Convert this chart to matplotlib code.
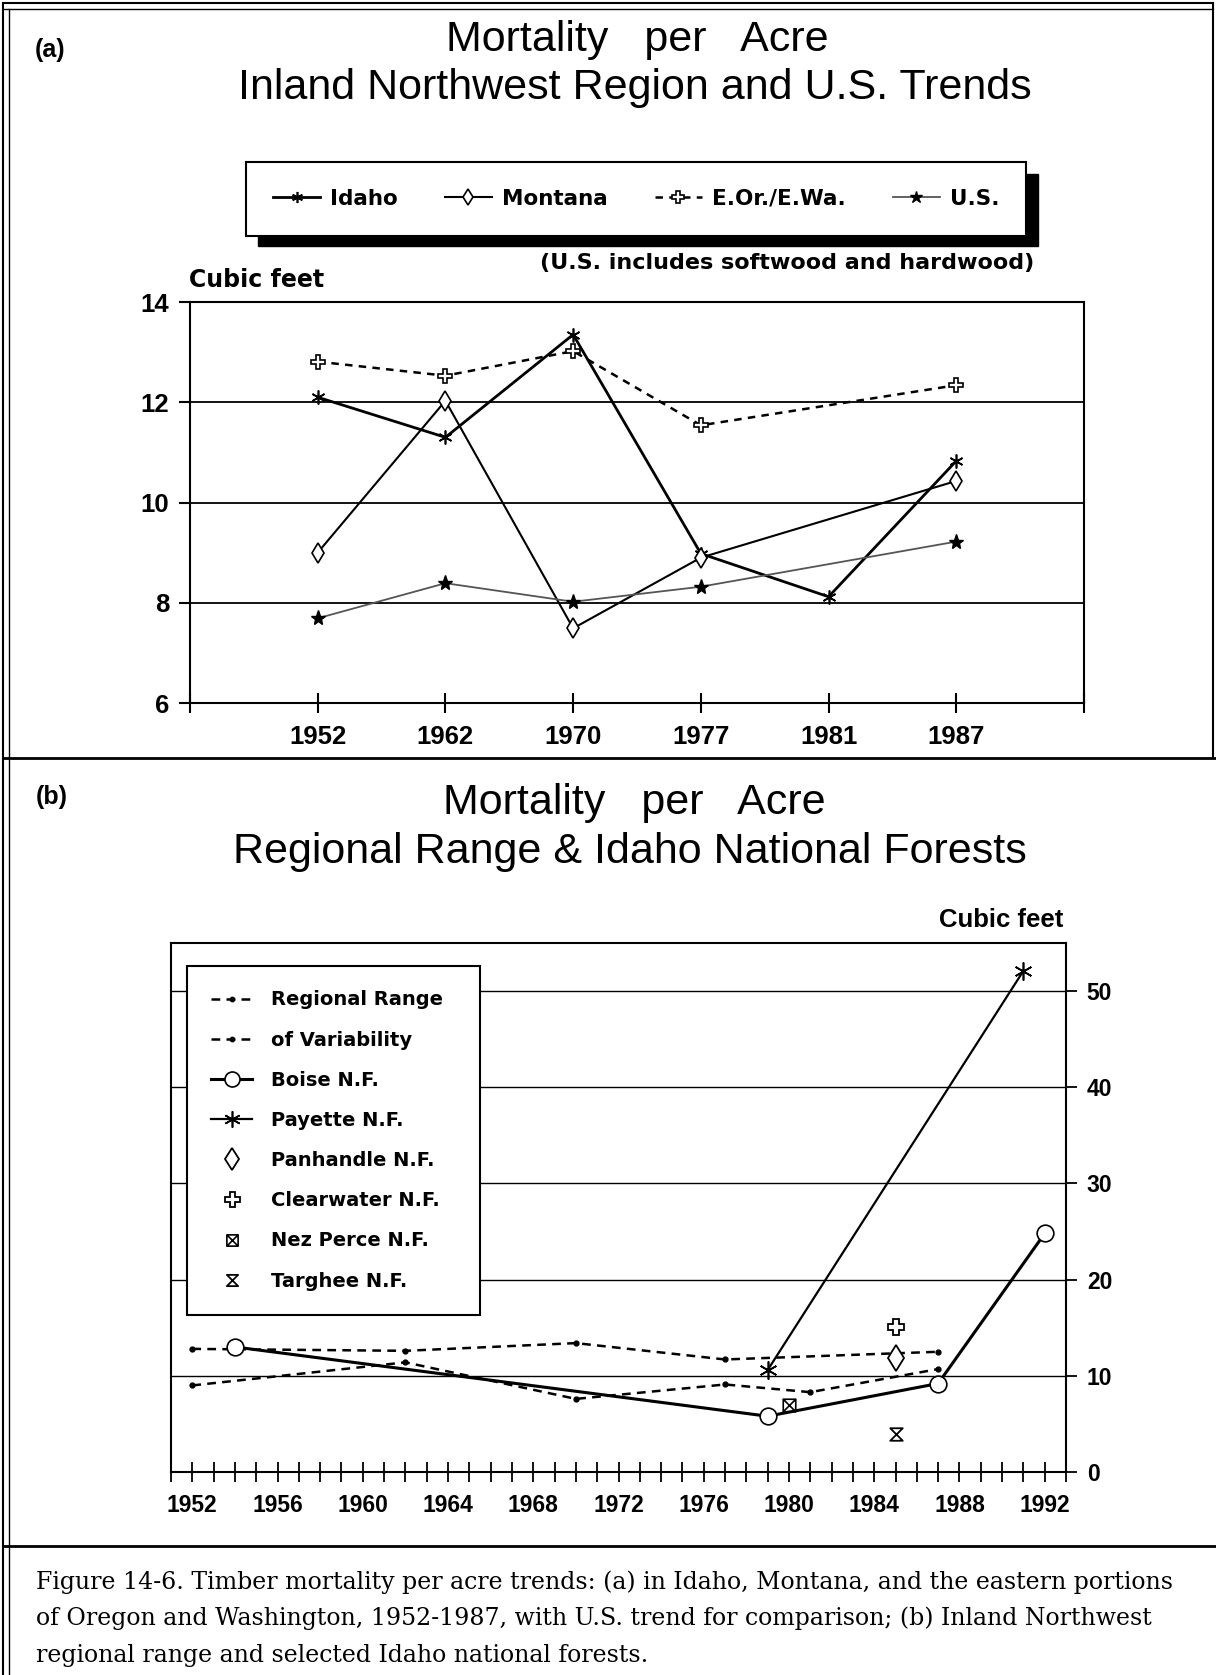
import numpy as np
import matplotlib
matplotlib.use("Agg")
import matplotlib.pyplot as plt
from matplotlib.lines import Line2D
from matplotlib.patches import Rectangle
from matplotlib.path import Path

# ---- data, panel (a) ----
years_a = ['1952', '1962', '1970', '1977', '1981', '1987']
idaho = [12.1, 11.3, 13.35, 8.98, 8.12, 10.83]
montana = [9.0, 12.03, 7.49, 8.9, None, 10.43]
eor_ewa = [12.81, 12.53, 13.02, 11.54, None, 12.34]
us_all = [7.69, 8.39, 8.02, 8.32, None, 9.22]

# ---- data, panel (b) ----
range_hi_years = [1952, 1962, 1970, 1977, 1987]
range_hi = [12.8, 12.6, 13.4, 11.7, 12.5]
range_lo_years = [1952, 1962, 1970, 1977, 1981, 1987]
range_lo = [9.0, 11.4, 7.6, 9.1, 8.3, 10.7]
boise_years = [1954, 1979, 1987, 1992]
boise = [13.0, 5.8, 9.2, 24.8]
payette_years = [1979, 1991]
payette = [10.6, 52.1]
panhandle_years, panhandle = [1985], [11.9]
clearwater_years, clearwater = [1985], [15.1]
nezperce_years, nezperce = [1980], [7.0]
targhee_years, targhee = [1985], [3.9]

W, H = 1216, 1675
fig = plt.figure(figsize=(W / 100, H / 100), dpi=100)


def fx(x):
    return x / W


def fy(y):
    return 1 - y / H


def fig_line(x0, y0, x1, y1, lw=1.5):
    fig.add_artist(Line2D([fx(x0), fx(x1)], [fy(y0), fy(y1)], color='black',
                          lw=lw, transform=fig.transFigure))


def present(vals):
    xs = [i for i, v in enumerate(vals) if v is not None]
    return xs, [vals[i] for i in xs]


# page frame
fig_line(3, 3, 1213, 3, 1.5)
fig_line(3, 9, 1213, 9, 1.0)
fig_line(3, 3, 3, 1675, 1.5)
fig_line(9, 9, 9, 1675, 1.0)
fig_line(1213, 3, 1213, 758, 1.5)
fig_line(3, 758, 1216, 758, 2.0)
fig_line(3, 1546, 1216, 1546, 2.0)

SANS = 'Liberation Sans'
WIDE = 'DejaVu Sans'
TITLE1 = 'Mortality   per   Acre'

# ================= panel (a) =================
fig.text(fx(50), fy(50), '(a)', family=SANS, weight='bold', fontsize=18,
         ha='center', va='center')
fig.text(fx(637), fy(40), TITLE1, family=SANS, fontsize=31,
         ha='center', va='center')
fig.text(fx(635), fy(88), 'Inland Northwest Region and U.S. Trends', family=SANS,
         fontsize=31, ha='center', va='center')

ax1 = fig.add_axes([fx(190), fy(703), (1084 - 190) / W, (703 - 302) / H])
ax1.set_xlim(-1, 6)
ax1.set_ylim(6, 14)

xs, ys = present(idaho)
ax1.plot(xs, ys, color='black', lw=2.0, marker=(6, 2, 0), ms=10, mew=1.2,
         label='Idaho')
xs, ys = present(montana)
ax1.plot(xs, ys, color='black', lw=1.5, marker='d', ms=10, mfc='white', mew=1.2,
         label='Montana')
xs, ys = present(eor_ewa)
ax1.plot(xs, ys, color='black', lw=1.8, ls=(0, (3, 2.5)), marker='P', ms=10,
         mfc='white', mew=1.2, label='E.Or./E.Wa.')
xs, ys = present(us_all)
ax1.plot(xs, ys, color='#555555', lw=1.3, marker='*', ms=11, mfc='black',
         mec='black', label='U.S.')

ax1.set_xticks(range(-1, 7))
ax1.set_xticklabels([''] + years_a + [''])
ax1.set_yticks([6, 8, 10, 12, 14])
ax1.tick_params(axis='x', direction='inout', length=15, width=1.5, pad=8)
ax1.tick_params(axis='y', direction='out', length=8, width=1.5, pad=7)
for lab in ax1.get_xticklabels() + ax1.get_yticklabels():
    lab.set_family(SANS)
    lab.set_weight('bold')
    lab.set_fontsize(18.5)
ax1.grid(axis='y', color='black', lw=1.3)
for sp in ax1.spines.values():
    sp.set_linewidth(1.5)

fig.text(fx(189), fy(280), 'Cubic feet', family=WIDE, weight='bold', fontsize=17,
         ha='left', va='center')
fig.text(fx(1034), fy(263), '(U.S. includes softwood and hardwood)', family=WIDE,
         weight='bold', fontsize=16, ha='right', va='center')

# legend with a solid drop shadow
fig.add_artist(Rectangle((fx(258), fy(246)), (1038 - 258) / W, (246 - 174) / H,
                         transform=fig.transFigure, color='black', zorder=4))
h1, l1 = ax1.get_legend_handles_labels()
leg1 = fig.legend(h1, l1, ncol=4, mode='expand', loc='center',
                  bbox_to_anchor=(fx(246), fy(236), (1026 - 246) / W, (236 - 162) / H),
                  bbox_transform=fig.transFigure, borderaxespad=0,
                  prop={'family': WIDE, 'weight': 'bold', 'size': 15.5},
                  handlelength=2.2, handletextpad=0.45, columnspacing=2.2,
                  borderpad=1.25, markerscale=0.8, fancybox=False, framealpha=1)
leg1.get_frame().set_edgecolor('black')
leg1.get_frame().set_linewidth(1.5)
leg1.set_zorder(5)

# ================= panel (b) =================
fig.text(fx(52), fy(797), '(b)', family=SANS, weight='bold', fontsize=18,
         ha='center', va='center')
fig.text(fx(634), fy(803), TITLE1, family=SANS, fontsize=31,
         ha='center', va='center')
fig.text(fx(630), fy(852), 'Regional Range & Idaho National Forests', family=SANS,
         fontsize=31, ha='center', va='center')
fig.text(fx(1063), fy(920), 'Cubic feet', family=SANS, weight='bold', fontsize=18.5,
         ha='right', va='center')

ax2 = fig.add_axes([fx(171), fy(1472), (1066 - 171) / W, (1472 - 943) / H])
ax2.set_xlim(1951, 1993)
ax2.set_ylim(0, 55)

box_x = Path([(-1, -1), (1, -1), (1, 1), (-1, 1), (-1, -1),
              (-1, -1), (1, 1), (-1, 1), (1, -1)],
             [Path.MOVETO, Path.LINETO, Path.LINETO, Path.LINETO, Path.CLOSEPOLY,
              Path.MOVETO, Path.LINETO, Path.MOVETO, Path.LINETO])
hourglass = Path([(-1, 1), (1, 1), (-1, -1), (1, -1), (-1, 1)],
                 [Path.MOVETO, Path.LINETO, Path.LINETO, Path.LINETO, Path.CLOSEPOLY])

dash = (0, (3.5, 2.5))
ax2.plot(range_hi_years, range_hi, color='black', lw=1.8, ls=dash, marker='o',
         ms=3.5, label='Regional Range')
ax2.plot(range_lo_years, range_lo, color='black', lw=1.8, ls=dash, marker='o',
         ms=3.5, label='of Variability')
ax2.plot(boise_years, boise, color='black', lw=2.2, marker='o', ms=12,
         mfc='white', mew=1.2, label='Boise N.F.')
ax2.plot(payette_years, payette, color='black', lw=1.6, marker=(6, 2, 0), ms=13,
         mew=1.2, label='Payette N.F.')
ax2.plot(panhandle_years, panhandle, ls='none', color='black', marker='d', ms=13,
         mfc='white', mew=1.3, label='Panhandle N.F.')
ax2.plot(clearwater_years, clearwater, ls='none', color='black', marker='P', ms=12,
         mfc='white', mew=1.3, label='Clearwater N.F.')
ax2.plot(nezperce_years, nezperce, ls='none', color='black', marker=box_x, ms=9,
         mfc='none', mew=1.2, label='Nez Perce N.F.')
ax2.plot(targhee_years, targhee, ls='none', color='black', marker=hourglass, ms=9,
         mfc='none', mew=1.3, label='Targhee N.F.')

ax2.yaxis.tick_right()
ax2.set_yticks(range(0, 51, 10))
ax2.set_xticks(range(1952, 1993, 4))
ax2.set_xticks(range(1951, 1994), minor=True)
ax2.tick_params(axis='x', which='both', direction='inout', length=15, width=1.3, pad=8)
ax2.tick_params(axis='y', direction='out', length=8, width=1.3, pad=7)
for lab in ax2.get_xticklabels() + ax2.get_yticklabels():
    lab.set_family(SANS)
    lab.set_weight('bold')
    lab.set_fontsize(16.5)
ax2.grid(axis='y', color='black', lw=1.0)
for sp in ax2.spines.values():
    sp.set_linewidth(1.5)

leg2 = ax2.legend(loc='upper left', mode='expand',
                  bbox_to_anchor=(fx(187), fy(1309), (480 - 187) / W, (1309 - 966) / H),
                  bbox_transform=fig.transFigure, borderaxespad=0,
                  prop={'family': WIDE, 'weight': 'bold', 'size': 14},
                  handlelength=2.1, handletextpad=0.95, labelspacing=1.09,
                  borderpad=1.25, numpoints=1, markerscale=0.9,
                  fancybox=False, framealpha=1)
leg2.get_frame().set_edgecolor('black')
leg2.get_frame().set_linewidth(1.5)

# ================= caption =================
caption = [
    'Figure 14-6. Timber mortality per acre trends: (a) in Idaho, Montana, and the eastern portions',
    'of Oregon and Washington, 1952-1987, with U.S. trend for comparison; (b) Inland Northwest',
    'regional range and selected Idaho national forests.',
]
for i, line in enumerate(caption):
    fig.text(fx(36), fy(1589 + 36.5 * i), line, family='DejaVu Serif', fontsize=17,
             ha='left', va='baseline')

fig.savefig('out.png', dpi=100)
